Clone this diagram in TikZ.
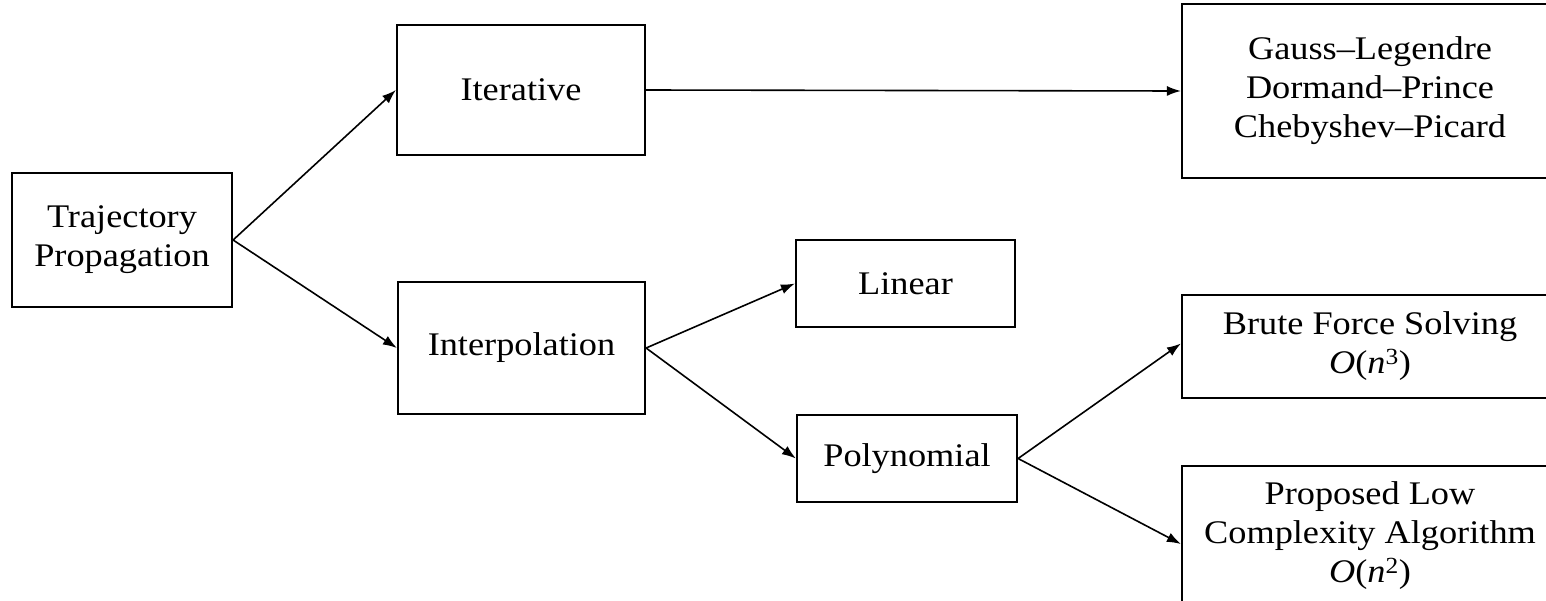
\documentclass[tikz,border=0pt]{standalone}
\usepackage{fontspec}
\setmainfont{Liberation Serif}[FakeStretch=1.1]
\usetikzlibrary{arrows.meta}
\tikzset{
  box/.style={draw, line width=2.2pt, inner sep=0pt, align=center,
    font=\fontsize{33}{39}\selectfont},
  conn/.style={line width=1.6pt, -{Latex[length=14pt,width=10pt]}}
}
\newcommand{\bigO}[1]{\textit{O}(\textit{n}\textsuperscript{#1})}
\begin{document}
\begin{tikzpicture}[x=1pt,y=-1pt]
\useasboundingbox (0,0) rectangle (1546,600);
\clip (0,0) rectangle (1546,600);
\node[box, minimum width=220, minimum height=134] (T) at (122,240) {Trajectory\\Propagation};
\node[box, minimum width=248, minimum height=130] (I) at (521,90) {Iterative};
\node[box, minimum width=247, minimum height=132] (P) at (521.5,348) {Interpolation};
\node[box, minimum width=219, minimum height=87] (L) at (905.5,283.5) {Linear};
\node[box, minimum width=220, minimum height=87] (Y) at (907,458.5) {Polynomial};
\node[box, minimum width=376, minimum height=174] (G) at (1370,91) {Gauss--Legendre\\Dormand--Prince\\Chebyshev--Picard};
\node[box, minimum width=376, minimum height=103] (B) at (1370,346.5) {Brute Force Solving\\\bigO{3}};
\node[box, minimum width=376, minimum height=140] (A) at (1370,536) {Proposed Low\\Complexity Algorithm\\\bigO{2}};
\draw[conn] (T.east) -- (I.west);
\draw[conn] (T.east) -- (P.west);
\draw[conn] (I.east) -- (G.west);
\draw[conn] (P.east) -- (L.west);
\draw[conn] (P.east) -- (Y.west);
\draw[conn] (Y.east) -- ([yshift=3pt]B.west);
\draw[conn] (Y.east) -- ([yshift=-8pt]A.west);
\end{tikzpicture}
\end{document}
